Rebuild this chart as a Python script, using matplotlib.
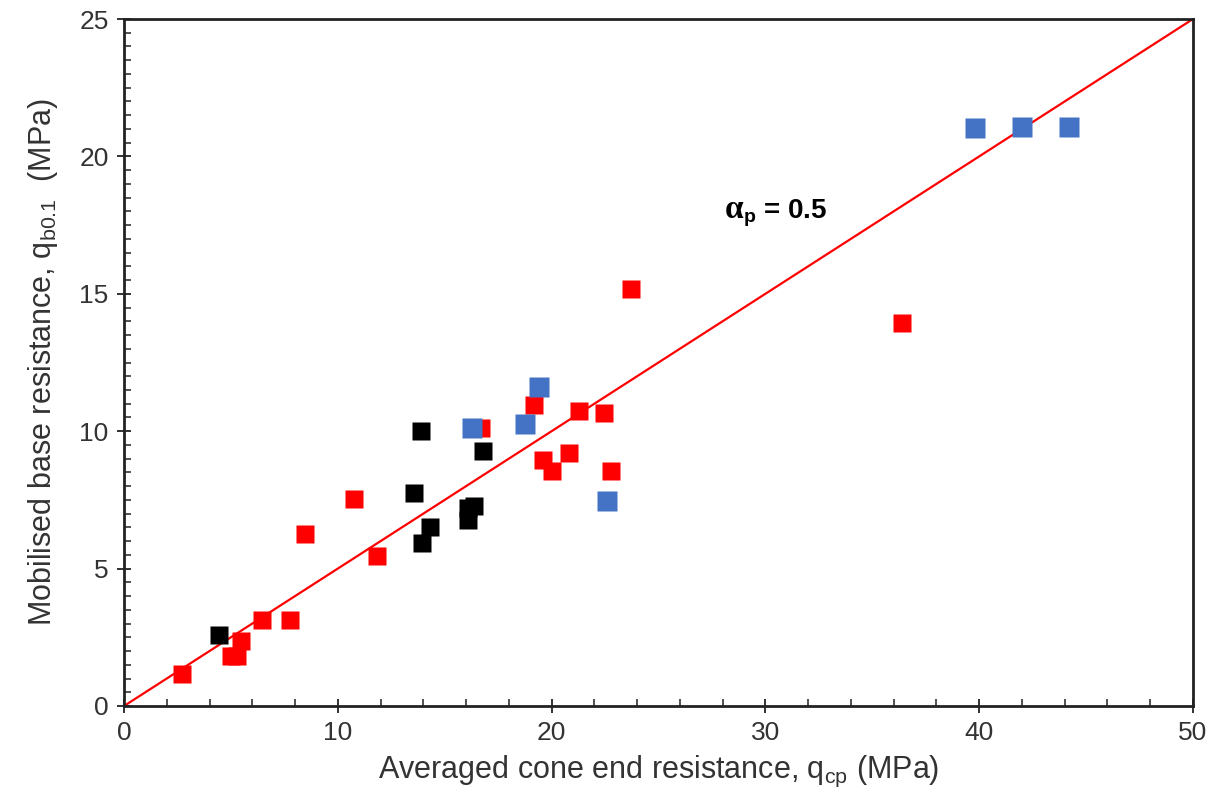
import matplotlib
matplotlib.use("Agg")
import matplotlib.pyplot as plt
from matplotlib.ticker import MultipleLocator

plt.rcParams['font.family'] = ['Liberation Sans', 'DejaVu Sans']
plt.rcParams['mathtext.fontset'] = 'custom'
plt.rcParams['mathtext.rm'] = 'Liberation Sans'
plt.rcParams['mathtext.it'] = 'Liberation Sans:italic'
plt.rcParams['mathtext.bf'] = 'Liberation Sans:bold'

# Averaged cone end resistance q_cp (MPa) and mobilised base resistance q_b0.1 (MPa)
red_qcp = [2.7, 5.0, 5.3, 5.45, 6.45, 7.75, 8.45, 10.75, 11.85, 16.7, 19.2,
           21.3, 22.45, 19.6, 20.0, 20.8, 22.8, 23.7, 36.4]
red_qb = [1.15, 1.82, 1.82, 2.35, 3.13, 3.13, 6.26, 7.52, 5.45, 10.1, 10.95,
          10.73, 10.67, 8.95, 8.56, 9.22, 8.55, 15.17, 13.95]

black_qcp = [4.45, 13.9, 13.55, 13.95, 14.3, 16.1, 16.1, 16.35, 16.8]
black_qb = [2.57, 10.02, 7.74, 5.92, 6.53, 6.77, 7.19, 7.28, 9.29]

blue_qcp = [16.3, 18.75, 19.4, 22.6, 39.8, 42.0, 44.2]
blue_qb = [10.1, 10.26, 11.62, 7.47, 21.03, 21.06, 21.06]

alpha_p = 0.5
line_x = [0, 50]
line_y = [alpha_p * v for v in line_x]

fig = plt.figure(figsize=(12.11, 7.99), dpi=100)
ax = fig.add_axes([0.1024, 0.1164, 0.8827, 0.8598])

ax.plot(line_x, line_y, color='#FF0000', lw=1.6, zorder=2)
ax.plot(red_qcp, red_qb, 's', color='#FF0000', ms=13, mec='none', zorder=3)
ax.plot(black_qcp, black_qb, 's', color='#000000', ms=13, mec='none', zorder=4)
ax.plot(blue_qcp, blue_qb, 's', color='#4472C4', ms=14.5, mec='none', zorder=5)

ax.text(28.1, 17.75, 'α', fontsize=24, fontweight='bold',
        family=['Liberation Serif', 'DejaVu Serif'], va='baseline', ha='left')
ax.text(28.95, 17.75, r'$\mathbf{_p}$ = 0.5', fontsize=20, fontweight='bold',
        va='baseline', ha='left')

ax.set_xlim(0, 50)
ax.set_ylim(0, 25)
ax.xaxis.set_major_locator(MultipleLocator(10))
ax.xaxis.set_minor_locator(MultipleLocator(2))
ax.yaxis.set_major_locator(MultipleLocator(5))
ax.yaxis.set_minor_locator(MultipleLocator(0.5))

ax.tick_params(which='major', direction='inout', length=10, width=1.3,
               labelsize=19, colors='#222222', pad=6)
ax.tick_params(which='minor', direction='in', length=5, width=1.1, colors='#222222')
ax.tick_params(top=False, right=False, which='both')
ax.tick_params(axis='both', labelcolor='#333333')

for s in ax.spines.values():
    s.set_linewidth(2)
    s.set_color('#222222')

ax.set_xlabel(r'Averaged cone end resistance, q$_\mathregular{cp}$ (MPa)',
              fontsize=22, color='#333333', labelpad=6)
ax.set_ylabel(r'Mobilised base resistance, q$_\mathregular{b0.1}$  (MPa)',
              fontsize=22, color='#333333', labelpad=14)

fig.savefig('out.png', dpi=100)
